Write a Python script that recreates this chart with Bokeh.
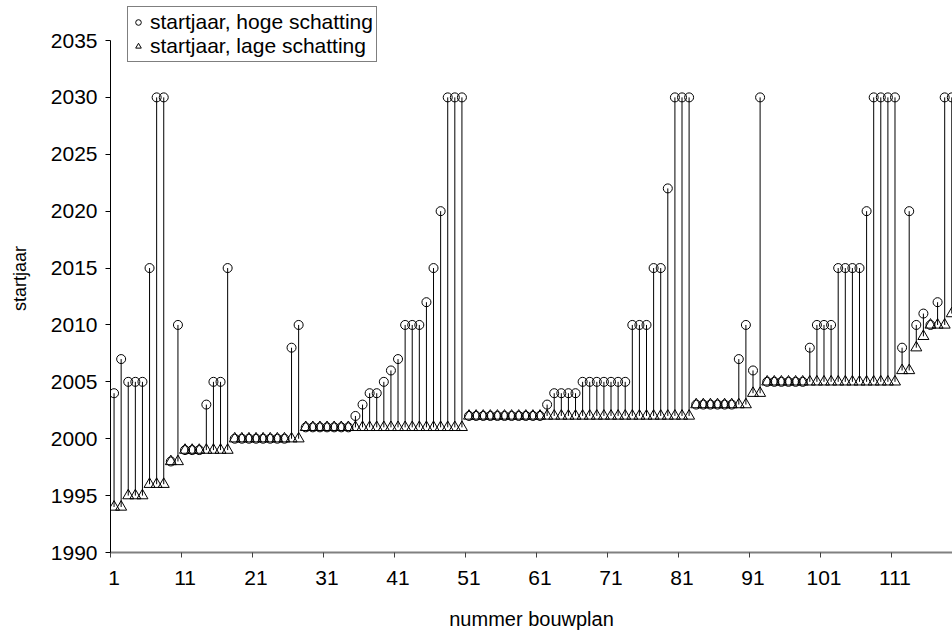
from bokeh.plotting import figure
from bokeh.models import ColumnDataSource, Range1d, FixedTicker, Legend, LegendItem
from bokeh.embed import file_html
from bokeh.resources import INLINE

# ---- data ----
plan = list(range(1, 120))

high = [2004, 2007, 2005, 2005, 2005, 2015, 2030, 2030, 1998, 2010,
        1999, 1999, 1999, 2003, 2005, 2005, 2015,
        2000, 2000, 2000, 2000, 2000, 2000, 2000, 2000, 2008, 2010,
        2001, 2001, 2001, 2001, 2001, 2001, 2001,
        2002, 2003, 2004, 2004, 2005, 2006, 2007, 2010, 2010, 2010,
        2012, 2015, 2020, 2030, 2030, 2030,
        2002, 2002, 2002, 2002, 2002, 2002, 2002, 2002, 2002, 2002, 2002,
        2003, 2004, 2004, 2004, 2004,
        2005, 2005, 2005, 2005, 2005, 2005, 2005,
        2010, 2010, 2010, 2015, 2015, 2022, 2030, 2030, 2030,
        2003, 2003, 2003, 2003, 2003, 2003, 2007, 2010, 2006, 2030,
        2005, 2005, 2005, 2005, 2005, 2005, 2008, 2010, 2010, 2010,
        2015, 2015, 2015, 2015, 2020, 2030, 2030, 2030, 2030,
        2008, 2020, 2010, 2011, 2010, 2012, 2030, 2030]

low = [1994, 1994, 1995, 1995, 1995, 1996, 1996, 1996, 1998, 1998,
       1999, 1999, 1999, 1999, 1999, 1999, 1999,
       2000, 2000, 2000, 2000, 2000, 2000, 2000, 2000, 2000, 2000,
       2001, 2001, 2001, 2001, 2001, 2001, 2001,
       2001, 2001, 2001, 2001, 2001, 2001, 2001, 2001, 2001, 2001,
       2001, 2001, 2001, 2001, 2001, 2001,
       2002, 2002, 2002, 2002, 2002, 2002, 2002, 2002, 2002, 2002, 2002,
       2002, 2002, 2002, 2002, 2002,
       2002, 2002, 2002, 2002, 2002, 2002, 2002,
       2002, 2002, 2002, 2002, 2002, 2002, 2002, 2002, 2002,
       2003, 2003, 2003, 2003, 2003, 2003, 2003, 2003, 2004, 2004,
       2005, 2005, 2005, 2005, 2005, 2005, 2005, 2005, 2005, 2005,
       2005, 2005, 2005, 2005, 2005, 2005, 2005, 2005, 2005,
       2006, 2006, 2008, 2009, 2010, 2010, 2010, 2011]

x_tick_labels = ["1", "11", "21", "31", "41", "51", "61", "71", "81", "91", "101", "111"]
y_ticks = [1990, 1995, 2000, 2005, 2010, 2015, 2020, 2025, 2030, 2035]

FONT = "Liberation Sans"

src = ColumnDataSource(dict(x=plan, high=high, low=low))

# frame: x 110..952, y 4..552 ; 2035 sits at y=40 and the legend can live above it
y_top = 2035 + 36 * 45 / 512.0
p = figure(width=952, height=636, output_backend="svg", toolbar_location=None,
           x_range=Range1d(0.5, 119.1), y_range=Range1d(1990, y_top),
           min_border_left=110, min_border_right=0, min_border_top=4, min_border_bottom=84)
p.outline_line_color = None
p.xgrid.visible = False
p.ygrid.visible = False
p.background_fill_color = "white"
p.border_fill_color = "white"

p.segment(x0="x", y0="low", x1="x", y1="high", source=src, line_color="black", line_width=1)
r_hi = p.scatter(x="x", y="high", source=src, marker="circle", size=9,
                 fill_color=None, line_color="black", line_width=1)
r_lo = p.scatter(x="x", y="low", source=src, marker="triangle", size=11,
                 fill_color=None, line_color="black", line_width=1)

# x axis
tick_pos = [int(t) for t in x_tick_labels]
p.xaxis.ticker = FixedTicker(ticks=tick_pos, minor_ticks=[t - 0.5 for t in tick_pos])
p.xaxis.major_tick_out = 0
p.xaxis.major_tick_in = 0
p.xaxis.minor_tick_out = 5
p.xaxis.minor_tick_in = 0
p.xaxis.minor_tick_line_color = "#404040"
p.xaxis.axis_line_color = "#808080"
p.xaxis.axis_line_width = 2
p.xaxis.major_label_standoff = 13
p.xaxis.axis_label = "nummer bouwplan"
p.xaxis.axis_label_standoff = 20

# y axis
p.yaxis.ticker = FixedTicker(ticks=y_ticks)
p.yaxis.bounds = (1990, 2035)
p.yaxis.minor_tick_line_color = None
p.yaxis.major_tick_out = 5
p.yaxis.major_tick_in = 0
p.yaxis.axis_line_color = "black"
p.yaxis.major_label_standoff = 8
p.yaxis.axis_label = "startjaar"
p.yaxis.axis_label_standoff = 18

for ax in (p.xaxis, p.yaxis):
    ax.major_label_text_font = FONT
    ax.major_label_text_font_size = "21px"
    ax.major_label_text_color = "black"
    ax.axis_label_text_font = FONT
    ax.axis_label_text_font_style = "normal"
    ax.axis_label_text_color = "black"
p.xaxis.axis_label_text_font_size = "20px"
p.yaxis.axis_label_text_font_size = "18px"

legend = Legend(items=[LegendItem(label="startjaar, hoge schatting", renderers=[r_hi]),
                       LegendItem(label="startjaar, lage schatting", renderers=[r_lo])],
                location=(17, 490))
legend.label_text_font = FONT
legend.label_text_font_size = "21px"
legend.label_text_color = "black"
legend.border_line_color = "black"
legend.border_line_width = 1
legend.background_fill_color = "white"
legend.background_fill_alpha = 1
legend.padding = 3
legend.margin = 0
legend.spacing = 0
legend.glyph_width = 14
legend.glyph_height = 20
legend.label_height = 20
legend.label_standoff = 5
p.add_layout(legend, "center")

open("out.html", "w").write(file_html(p, INLINE))
